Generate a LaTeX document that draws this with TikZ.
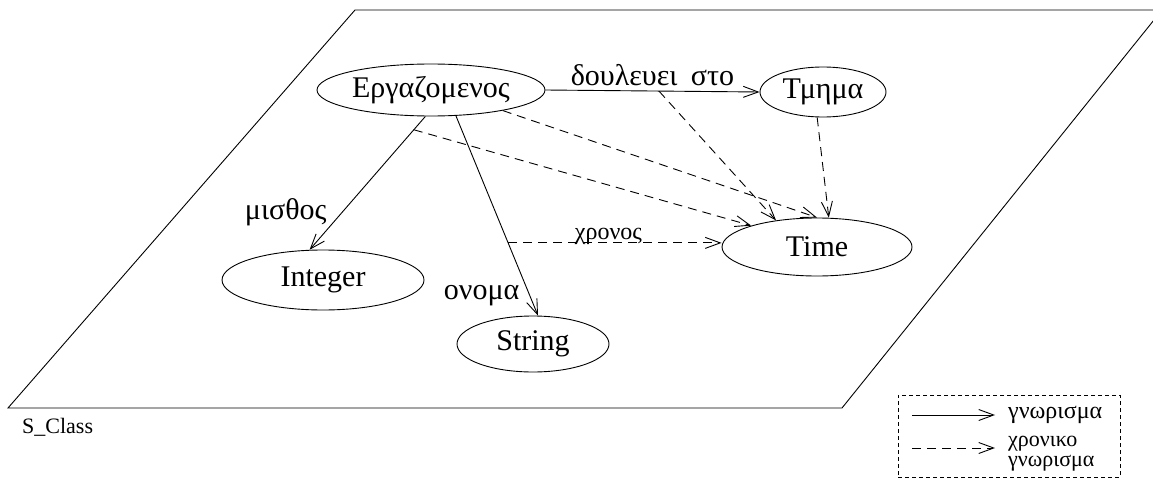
\documentclass[tikz,border=0pt]{standalone}
\usepackage{fontspec}
\setmainfont{Liberation Serif}
\usetikzlibrary{arrows.meta,shapes.geometric}
\begin{document}
\begin{tikzpicture}[x=1pt,y=-1pt,
  every node/.style={font=\fontsize{30}{35}\selectfont},
  cls/.style={draw, ellipse, line width=0.9pt, inner sep=0pt},
  attr/.style={draw, line width=0.9pt, -{Straight Barb[length=15pt,width=11pt]}},
  tattr/.style={attr, dash pattern=on 9pt off 6pt},
  lbl/.style={inner sep=0pt},
  small/.style={font=\fontsize{24}{19}\selectfont},
  tiny/.style={font=\fontsize{22}{20}\selectfont},
]
\useasboundingbox (0,0) rectangle (1153,487);

% the schema plane
\begin{scope}
  \clip (0,0) rectangle (1153,487);
  \draw[line width=0.9pt] (355,10) -- (1162,10) -- (842,408) -- (8,408) -- cycle;
\end{scope}
\node[lbl, tiny, anchor=west] (sclass) at (22,427) {S\_Class};

% classes
\node[cls, minimum width=228pt, minimum height=52pt] (emp)  at (431,90)  {Εργαζομενος};
\node[cls, minimum width=126pt, minimum height=50pt] (dep)  at (823,92)  {Τμημα};
\node[cls, minimum width=190pt, minimum height=58pt] (time) at (817,247) {Time};
\node[cls, minimum width=202pt, minimum height=60pt] (int)  at (323,280) {Integer};
\node[cls, minimum width=152pt, minimum height=56pt] (str)  at (533,344) {String};

% attributes
\draw[attr] (emp.east) -- coordinate[pos=0.53] (works)
  node[lbl, midway, above=5pt]{δουλευει\hspace{0.45em}στο} (dep.west);
\draw[attr] (emp.-102) -- coordinate[pos=0.1] (sal)
  node[lbl, pos=0.72, anchor=east, xshift=-15pt]{μισθος} (int.114);
\draw[attr] (emp.-46) -- coordinate[pos=0.636] (nm)
  node[lbl, pos=0.9, anchor=east, xshift=-10pt]{ονομα} (str.80);

% temporal attributes
\draw[tattr] (emp.-16) -- (time.90);
\draw[tattr] (sal) -- (time.162);
\draw[tattr] (works) -- (time.147);
\draw[tattr] (dep.-103) -- (time.68);
\draw[tattr] (nm) -- node[lbl, small, pos=0.47, anchor=base, yshift=3pt]{χρονος} (nm -| time.west);

% legend
\node[draw, dash pattern=on 4pt off 3pt, line width=0.7pt, minimum width=222pt,
  minimum height=82pt, inner sep=0pt] (legend) at (1009,436) {};
\node[lbl, small, anchor=west] (lt1) at (1008,415) {γνωρισμα};
\node[lbl, tiny, anchor=north west, align=left] (lt2) at (1008,436) {χρονικο\\γνωρισμα};
\coordinate (la1) at (912,415);
\coordinate (la2) at (912,448);
\coordinate (lb1) at (995,415);
\coordinate (lb2) at (995,448);
\draw[attr] (la1) -- (lb1);
\draw[tattr] (la2) -- (lb2);
\end{tikzpicture}
\end{document}
